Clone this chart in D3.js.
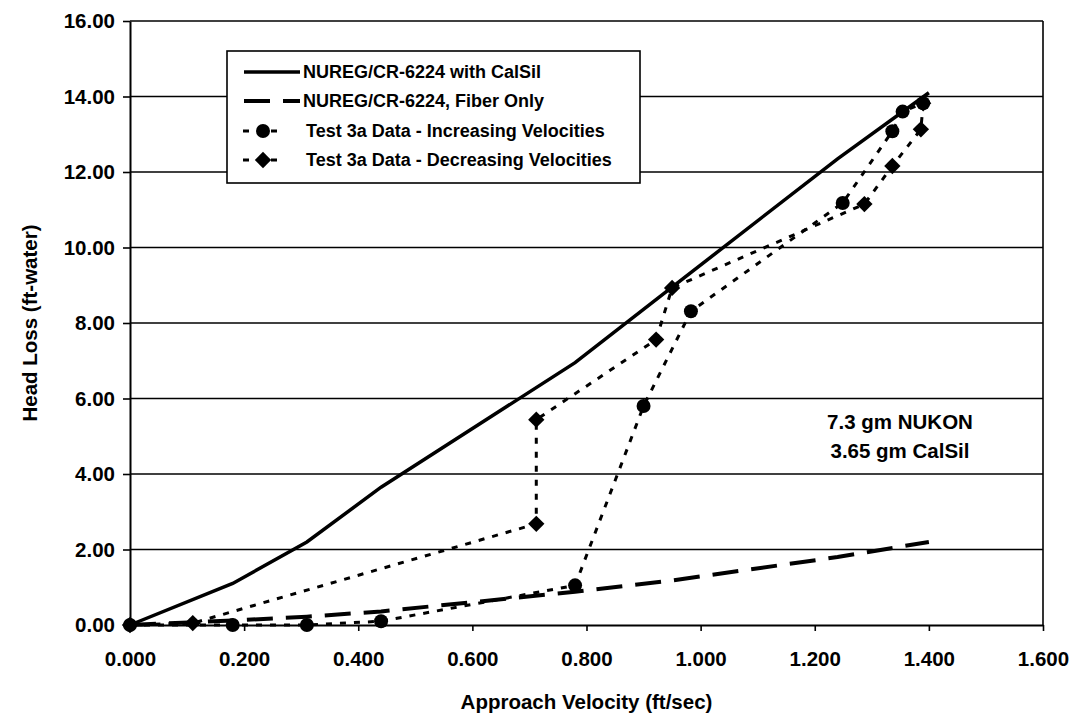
<!DOCTYPE html>
<html>
<head>
<meta charset="utf-8">
<script src="https://cdn.jsdelivr.net/npm/d3@7"></script>
<style>
  body { margin: 0; background: #fff; }
  text { font-family: "Liberation Sans", Arial, sans-serif; font-weight: bold; fill: #000; }
</style>
</head>
<body>
<svg id="chart" width="1080" height="722"></svg>
<script>
// Tick values
const xTicks = [0, 0.2, 0.4, 0.6, 0.8, 1.0, 1.2, 1.4, 1.6];
const yTicks = [0, 2, 4, 6, 8, 10, 12, 14, 16];

// NUREG/CR-6224 with CalSil
const calsilVel = [0, 0.18, 0.31, 0.44, 0.78, 0.95, 1.24, 1.40];
const calsilHead = [0, 1.1, 2.2, 3.65, 6.95, 8.95, 12.35, 14.1];

// NUREG/CR-6224, Fiber Only
const fiberVel = [0, 0.18, 0.31, 0.44, 0.78, 0.95, 1.24, 1.40];
const fiberHead = [0, 0.12, 0.22, 0.36, 0.88, 1.18, 1.8, 2.2];

// Test 3a Data - Increasing Velocities
const incVel = [0, 0.18, 0.31, 0.44, 0.78, 0.90, 0.983, 1.249, 1.336, 1.354, 1.39];
const incHead = [0, 0, 0, 0.1, 1.05, 5.8, 8.31, 11.18, 13.08, 13.6, 13.82];

// Test 3a Data - Decreasing Velocities
const decVel = [1.39, 1.386, 1.336, 1.287, 0.95, 0.922, 0.712, 0.712, 0.11, 0];
const decHead = [13.82, 13.13, 12.16, 11.15, 8.93, 7.56, 5.44, 2.68, 0.05, 0];

const series = [
  { name: "NUREG/CR-6224 with CalSil", vel: calsilVel, head: calsilHead, width: 3.5, dash: null, marker: null },
  { name: "NUREG/CR-6224, Fiber Only", vel: fiberVel, head: fiberHead, width: 4, dash: "26,13", marker: null },
  { name: "Test 3a Data - Increasing Velocities", vel: incVel, head: incHead, width: 3, dash: "6,8", marker: "circle" },
  { name: "Test 3a Data - Decreasing Velocities", vel: decVel, head: decHead, width: 3, dash: "6,8", marker: "diamond" }
];

const svg = d3.select("#chart");
const m = { left: 130, right: 1043, top: 21, bottom: 625 };

const x = d3.scaleLinear().domain([0, 1.6]).range([m.left, m.right]);
const y = d3.scaleLinear().domain([0, 16]).range([m.bottom, m.top]);

// gridlines
svg.append("g")
  .selectAll("line")
  .data(yTicks.filter(d => d > 0))
  .join("line")
  .attr("x1", m.left).attr("x2", m.right)
  .attr("y1", d => y(d)).attr("y2", d => y(d))
  .attr("stroke", "#000").attr("stroke-width", 1.6);

// right border
svg.append("line")
  .attr("x1", m.right).attr("x2", m.right)
  .attr("y1", m.top).attr("y2", m.bottom)
  .attr("stroke", "#000").attr("stroke-width", 1.6);

// axes
const xAxis = svg.append("g")
  .attr("transform", `translate(0,${m.bottom})`)
  .call(d3.axisBottom(x).tickValues(xTicks).tickFormat(d3.format(".3f")).tickSizeInner(6).tickSizeOuter(0).tickPadding(20));

const yAxis = svg.append("g")
  .attr("transform", `translate(${m.left},0)`)
  .call(d3.axisLeft(y).tickValues(yTicks).tickFormat(d3.format(".2f")).tickSizeInner(7).tickSizeOuter(0).tickPadding(8));

[xAxis, yAxis].forEach(a => {
  a.select(".domain").attr("stroke", "#000").attr("stroke-width", 2);
  a.selectAll(".tick line").attr("stroke", "#000").attr("stroke-width", 1.6);
  a.selectAll(".tick text")
    .style("font-family", "'Liberation Sans', Arial, sans-serif")
    .style("font-weight", "bold")
    .style("font-size", "20.5px")
    .attr("fill", "#000");
});

// axis titles
svg.append("text")
  .attr("x", (m.left + m.right) / 2)
  .attr("y", 709)
  .attr("text-anchor", "middle")
  .style("font-size", "20.5px")
  .text("Approach Velocity (ft/sec)");

svg.append("text")
  .attr("transform", `translate(37,${(m.top + m.bottom) / 2}) rotate(-90)`)
  .attr("text-anchor", "middle")
  .style("font-size", "20.5px")
  .text("Head Loss (ft-water)");

// series lines
const line = d3.line();
series.forEach(s => {
  const pts = s.vel.map((v, i) => [x(v), y(s.head[i])]);
  svg.append("path")
    .attr("d", line(pts))
    .attr("fill", "none")
    .attr("stroke", "#000")
    .attr("stroke-width", s.width)
    .attr("stroke-dasharray", s.dash);
});

function drawMarker(g, type, cx, cy) {
  if (type === "circle") {
    g.append("circle").attr("cx", cx).attr("cy", cy).attr("r", 7).attr("fill", "#000");
  } else if (type === "diamond") {
    g.append("path")
      .attr("d", d3.symbol().type(d3.symbolDiamond2).size(170)())
      .attr("transform", `translate(${cx},${cy})`)
      .attr("fill", "#000");
  }
}

series.filter(s => s.marker).forEach(s => {
  const g = svg.append("g");
  s.vel.forEach((v, i) => drawMarker(g, s.marker, x(v), y(s.head[i])));
});

// annotation
svg.append("text").attr("x", 900).attr("y", 429).attr("text-anchor", "middle")
  .style("font-size", "20.5px").text("7.3 gm NUKON");
svg.append("text").attr("x", 900).attr("y", 458).attr("text-anchor", "middle")
  .style("font-size", "20.5px").text("3.65 gm CalSil");

// legend
const legend = svg.append("g");
legend.append("rect")
  .attr("x", 227).attr("y", 51).attr("width", 413).attr("height", 132)
  .attr("fill", "#fff").attr("stroke", "#000").attr("stroke-width", 1.6);

const rowY = [72, 101, 131, 160];
series.forEach((s, i) => {
  const ry = rowY[i];
  const row = legend.append("g");
  if (s.marker) {
    row.append("line")
      .attr("x1", 243).attr("x2", 283).attr("y1", ry).attr("y2", ry)
      .attr("stroke", "#000").attr("stroke-width", s.width).attr("stroke-dasharray", s.dash);
    drawMarker(row, s.marker, 263, ry);
  } else {
    row.append("line")
      .attr("x1", 244).attr("x2", 300).attr("y1", ry).attr("y2", ry)
      .attr("stroke", "#000").attr("stroke-width", s.width).attr("stroke-dasharray", s.dash);
  }
  row.append("text")
    .attr("x", s.marker ? 306 : 303)
    .attr("y", ry + 6)
    .style("font-size", "18px")
    .text(s.name);
});
</script>
</body>
</html>
